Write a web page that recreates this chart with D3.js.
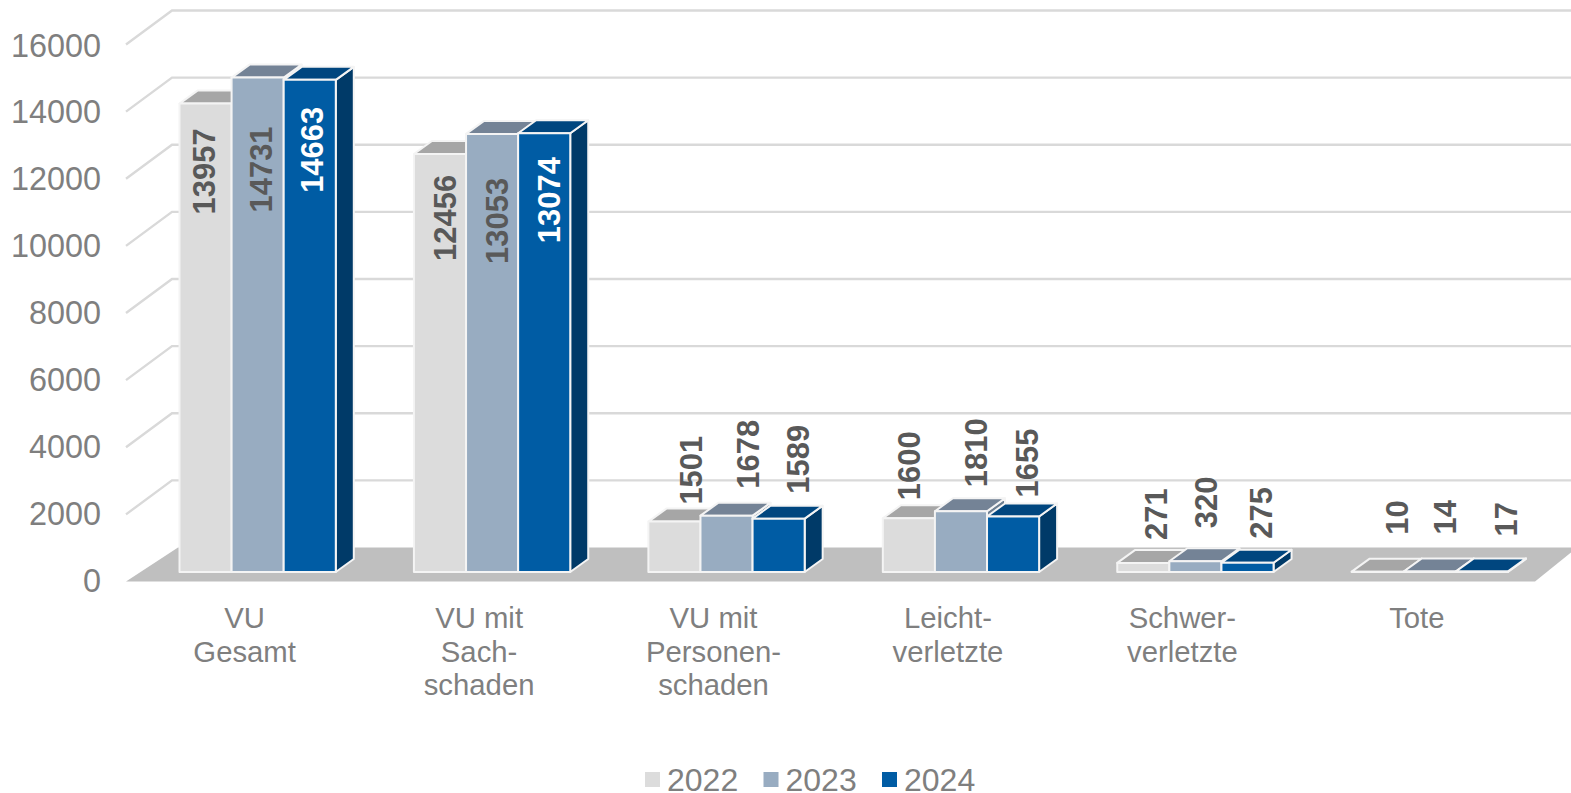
<!DOCTYPE html>
<html><head><meta charset="utf-8">
<script src="https://cdn.jsdelivr.net/npm/d3@7"></script>
<style>html,body{margin:0;padding:0;background:#fff}svg{display:block}text{font-family:"Liberation Sans",Arial,sans-serif}</style>
</head><body><svg id="c" width="1571" height="793"></svg>
<script>
const categories = [["VU","Gesamt"],["VU mit","Sach-","schaden"],["VU mit","Personen-","schaden"],["Leicht-","verletzte"],["Schwer-","verletzte"],["Tote"]];
const years = ["2022","2023","2024"];
const values2022 = [13957,12456,1501,1600,271,10];
const values2023 = [14731,13053,1678,1810,320,14];
const values2024 = [14663,13074,1589,1655,275,17];
const yTicks = [0,2000,4000,6000,8000,10000,12000,14000,16000];
// manual label placement of the original, relative to each bar (px)
const nudgeX = [[-2,3,2],[5,5,5],[17,21,19],[0,15,14],[13,11,13],[19,15,24]];
const nudgeY = [[111,135,113],[107,130,110],[-17,-27,-25],[-18,-24,-19],[-23,-33,-24],[-37,-37,-35]];

const seriesValues = [values2022,values2023,values2024];
const front = ["#dcdcdc","#98acc1","#005ca4"], top_ = ["#a6a6a6","#748396","#00467f"], side = ["#a8a8a8","#6d7f92","#003a68"];
const svg = d3.select("#c");
const y = d3.scaleLinear().domain([0,16000]).range([572,35]);
const x0 = d3.scaleBand().domain(d3.range(categories.length)).range([179.5,1508]).paddingInner(1/3).paddingOuter(0);
const x1 = d3.scaleBand().domain(d3.range(3)).range([0,x0.bandwidth()]);
const wallDy=-24.5, gridElbow=172, gridLeft=126, gridDrop=34;
const barDx=18, barDy=-13;
const tickFill="#7f7f7f", labelFill="#595959";

// gridlines on wall and left side
const grid = svg.append("g").attr("fill","none").attr("stroke","#d9d9d9").attr("stroke-width",2.4);
grid.selectAll("path").data(yTicks.slice(1)).join("path")
  .attr("d",v=>{const w=y(v)+wallDy;return `M${gridLeft},${w+gridDrop}L${gridElbow},${w}L1571,${w}`;});

// floor
const fb=y(0)+wallDy;
svg.append("path").attr("fill","#bfbfbf")
  .attr("d",`M${gridLeft},${fb+gridDrop}L${gridElbow+6},${fb}L1571,${fb}L1571,${fb+5}L1535,${fb+gridDrop}Z`);

// y axis labels
const axisY = d3.scaleLinear().domain([0,16000]).range([581,45.5]);
svg.append("g").selectAll("text").data(yTicks).join("text")
  .attr("x",101).attr("y",d=>axisY(d)+11).attr("text-anchor","end")
  .attr("font-size",32.4).attr("fill",tickFill).text(d=>d);

// bars
categories.forEach((c,i)=>{
  const g=svg.append("g").attr("stroke","#f4f4f4").attr("stroke-width",2).attr("stroke-linejoin","round");
  [0,1,2].forEach(s=>{
    const v=seriesValues[s][i], L=x0(i)+x1(s), R=L+x1.bandwidth(), T=y(v), B=y(0);
    g.append("path").attr("fill",side[s]).attr("d",`M${R},${T}L${R+barDx},${T+barDy}L${R+barDx},${B+barDy}L${R},${B}Z`);
    g.append("path").attr("fill",top_[s]).attr("d",`M${L},${T}L${L+barDx},${T+barDy}L${R+barDx},${T+barDy}L${R},${T}Z`);
    g.append("rect").attr("x",L).attr("y",T).attr("width",R-L).attr("height",Math.max(0,B-T)).attr("fill",front[s]);
  });
});

// data labels
const lab=svg.append("g");
categories.forEach((c,i)=>{
  [0,1,2].forEach(s=>{
    const v=seriesValues[s][i];
    const cx=x0(i)+x1(s)+x1.bandwidth()/2+nudgeX[i][s], by=y(v)+nudgeY[i][s];
    lab.append("text").attr("transform",`translate(${cx+11},${by}) rotate(-90)`)
      .attr("font-size",31).attr("font-weight","bold")
      .attr("fill",(s===2&&i<2)?"#ffffff":labelFill).text(v);
  });
});

// category labels
const cat=svg.append("g").attr("text-anchor","middle").attr("font-size",29.3).attr("fill",tickFill);
categories.forEach((c,i)=>{
  const cx=x0(i)+x0.bandwidth()/2-13;
  c.forEach((t,j)=>cat.append("text").attr("x",cx).attr("y",628+j*33.5).text(t));
});

// legend
const legX=d3.scalePoint().domain(years).range([645,882]);
const leg=svg.append("g");
years.forEach((yr,s)=>{
  leg.append("rect").attr("x",legX(yr)).attr("y",772).attr("width",15).attr("height",15).attr("fill",front[s]);
  leg.append("text").attr("x",legX(yr)+22).attr("y",790.5).attr("font-size",32).attr("fill",tickFill).text(yr);
});
</script></body></html>
